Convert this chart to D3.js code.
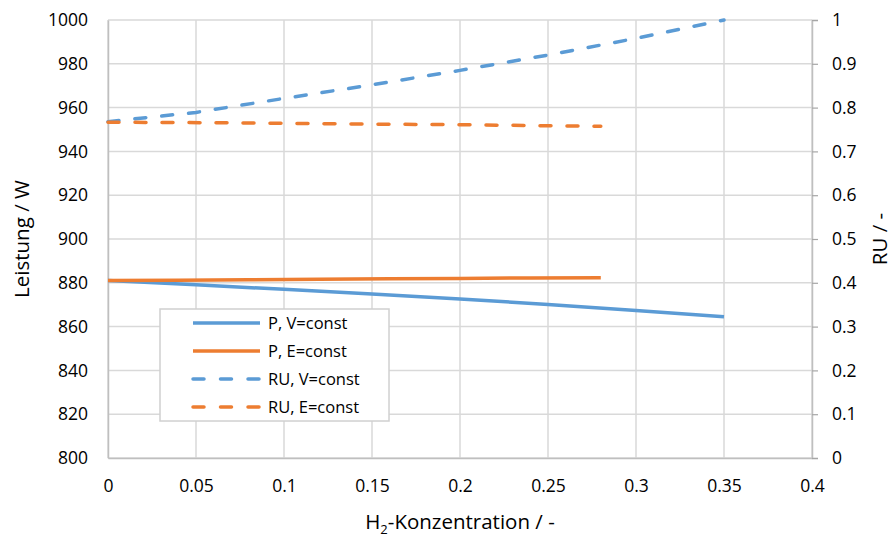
<!DOCTYPE html>
<html>
<head>
<meta charset="utf-8">
<script src="https://cdn.jsdelivr.net/npm/d3@7"></script>
<style>
  body { margin: 0; background: #fff; }
  text { font-family: "Open Sans", "Noto Sans", sans-serif; fill: #000; }
</style>
</head>
<body>
<div id="chart"></div>
<script>
// Data
var xV = [0, 0.05, 0.1, 0.15, 0.2, 0.25, 0.3, 0.35];
var pV = [881, 879.1, 877, 874.9, 872.6, 870.1, 867.4, 864.5];
var ruV = [0.768, 0.789, 0.821, 0.852, 0.885, 0.920, 0.958, 1.0];

var xE = [0, 0.04, 0.08, 0.12, 0.16, 0.2, 0.24, 0.28];
var pE = [881, 881.2, 881.4, 881.6, 881.8, 882.0, 882.2, 882.3];
var ruE = [0.7665, 0.766, 0.765, 0.7635, 0.762, 0.761, 0.759, 0.7575];

var xTicks = [0, 0.05, 0.1, 0.15, 0.2, 0.25, 0.3, 0.35, 0.4];
var leftTicks = [800, 820, 840, 860, 880, 900, 920, 940, 960, 980, 1000];
var rightTicks = [0, 0.1, 0.2, 0.3, 0.4, 0.5, 0.6, 0.7, 0.8, 0.9, 1];

var seriesNames = ["P, V=const", "P, E=const", "RU, V=const", "RU, E=const"];

var blue = "#5B9BD5";
var orange = "#ED7D31";

// Chart setup
var svgWidth = 894;
var svgHeight = 537;
var margin = { top: 20, right: 82, bottom: 79, left: 108 };
var width = svgWidth - margin.left - margin.right;
var height = svgHeight - margin.top - margin.bottom;

var svg = d3.select("#chart")
    .append("svg")
    .attr("width", svgWidth)
    .attr("height", svgHeight);

var chartGroup = svg.append("g")
    .attr("transform", `translate(${margin.left}, ${margin.top})`);

var xScale = d3.scaleLinear().domain([0, 0.4]).range([0, width]);
var yLeft = d3.scaleLinear().domain([800, 1000]).range([height, 0]);
var yRight = d3.scaleLinear().domain([0, 1]).range([height, 0]);

// Gridlines
chartGroup.append("g").selectAll("line")
    .data(leftTicks)
    .enter()
    .append("line")
    .attr("x1", 0).attr("x2", width)
    .attr("y1", d => yLeft(d)).attr("y2", d => yLeft(d))
    .attr("stroke", "#d9d9d9").attr("stroke-width", 1.5);

chartGroup.append("g").selectAll("line")
    .data(xTicks)
    .enter()
    .append("line")
    .attr("x1", d => xScale(d)).attr("x2", d => xScale(d))
    .attr("y1", 0).attr("y2", height)
    .attr("stroke", "#d9d9d9").attr("stroke-width", 1.5);

// Axes
var bottomAxis = d3.axisBottom(xScale).tickValues(xTicks).tickSize(0).tickPadding(22)
    .tickFormat(d => String(+d.toFixed(2)));
var leftAxis = d3.axisLeft(yLeft).tickValues(leftTicks).tickSize(0).tickPadding(20)
    .tickFormat(d => String(d));
var rightAxis = d3.axisRight(yRight).tickValues(rightTicks).tickSize(6).tickPadding(14)
    .tickFormat(d => String(+d.toFixed(1)));

var gx = chartGroup.append("g")
    .attr("transform", `translate(0, ${height})`)
    .call(bottomAxis);
var gl = chartGroup.append("g").call(leftAxis);
var gr = chartGroup.append("g")
    .attr("transform", `translate(${width}, 0)`)
    .call(rightAxis);

[gx, gl, gr].forEach(function(g) {
    g.select(".domain").attr("stroke", "#bfbfbf").attr("stroke-width", 1.5);
    g.selectAll(".tick line").attr("stroke", "#a6a6a6").attr("stroke-width", 1.2);
    g.selectAll("text").style("font-size", "17.5px").attr("fill", "#000");
});

// Lines
var lineLeft = d3.line().x(d => xScale(d[0])).y(d => yLeft(d[1]));
var lineRight = d3.line().x(d => xScale(d[0])).y(d => yRight(d[1]));

var series = [
    { data: d3.zip(xV, pV), gen: lineLeft, color: blue, dash: null },
    { data: d3.zip(xE, pE), gen: lineLeft, color: orange, dash: null },
    { data: d3.zip(xV, ruV), gen: lineRight, color: blue, dash: "11,16" },
    { data: d3.zip(xE, ruE), gen: lineRight, color: orange, dash: "11,16" }
];

series.forEach(function(s) {
    chartGroup.append("path")
        .attr("d", s.gen(s.data))
        .attr("fill", "none")
        .attr("stroke", s.color)
        .attr("stroke-width", 3.5)
        .attr("stroke-linecap", s.dash ? "round" : "butt")
        .attr("stroke-dasharray", s.dash);
});

// Legend
var legend = svg.append("g").attr("transform", "translate(160, 309)");
legend.append("rect")
    .attr("width", 229).attr("height", 112)
    .attr("fill", "#fff").attr("stroke", "#d0d0d0").attr("stroke-width", 1.5);

series.forEach(function(s, i) {
    var y = 14 + i * 28;
    legend.append("line")
        .attr("x1", 33).attr("x2", 100)
        .attr("y1", y).attr("y2", y)
        .attr("stroke", s.color).attr("stroke-width", 3.5)
        .attr("stroke-linecap", s.dash ? "round" : "butt")
        .attr("stroke-dasharray", s.dash ? "11,16.5" : null);
    legend.append("text")
        .attr("x", 108).attr("y", y)
        .attr("dy", "0.35em")
        .style("font-size", "16.5px")
        .text(seriesNames[i]);
});

// Axis titles
svg.append("text")
    .attr("transform", `translate(29, ${margin.top + height / 2}) rotate(-90)`)
    .attr("text-anchor", "middle")
    .style("font-size", "20.5px")
    .text("Leistung / W");

svg.append("text")
    .attr("transform", `translate(887, ${margin.top + height / 2}) rotate(-90)`)
    .attr("text-anchor", "middle")
    .style("font-size", "20.5px")
    .text("RU / -");

var xTitle = svg.append("text")
    .attr("x", margin.left + width / 2)
    .attr("y", 529)
    .attr("text-anchor", "middle")
    .style("font-size", "20.5px");
xTitle.append("tspan").text("H");
xTitle.append("tspan").attr("dy", 5).style("font-size", "13px").text("2");
xTitle.append("tspan").attr("dy", -5).text("-Konzentration / -");
</script>
</body>
</html>
